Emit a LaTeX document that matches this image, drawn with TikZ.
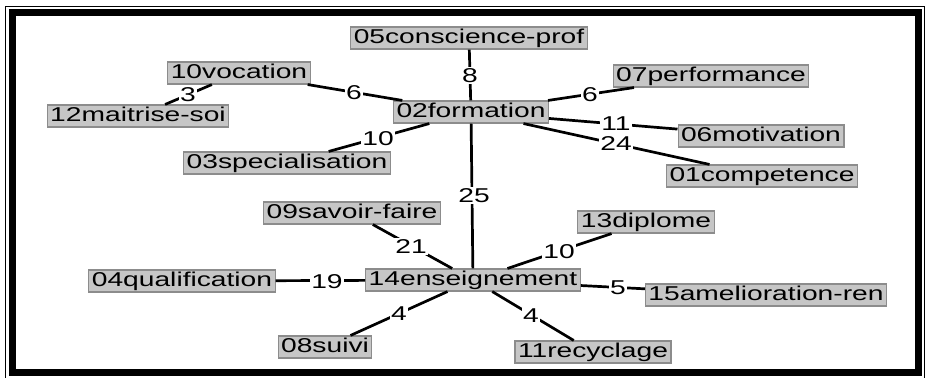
\documentclass[tikz,border=0pt]{standalone}
\usepackage{fontspec}
\setmainfont{Liberation Sans}[FakeStretch=1.41]
\definecolor{boxfill}{RGB}{198,198,198}
\definecolor{boxline}{RGB}{140,140,140}
\begin{document}
\begin{tikzpicture}[x=1bp,y=-1bp,
  every node/.style={font=\fontsize{20bp}{22bp}\selectfont},
  term/.style={draw=boxline, fill=boxfill, line width=1.1bp, inner xsep=3bp, inner ysep=0bp,
    minimum height=22bp, text height=14.5bp, text depth=4bp},
  lbl/.style={fill=white, inner sep=1.5bp, text height=14bp, text depth=0bp},
  edge/.style={line width=2.7bp}]
\useasboundingbox (0,0) rectangle (928,377);
\clip (0,0) rectangle (928,377);
% frame
\draw[line width=1.3bp] (5.5,6.5) rectangle (924.8,395);
\draw[line width=7bp] (12.5,12.5) rectangle (918.5,372.5);
% nodes
\node[term] (n05) at (469,38) {05conscience-prof};
\node[term] (n10) at (239,73) {10vocation};
\node[term] (n12) at (138,116) {12maitrise-soi};
\node[term] (n02) at (471,112) {02formation};
\node[term] (n07) at (711,76) {07performance};
\node[term] (n06) at (761,136) {06motivation};
\node[term] (n03) at (287,163) {03specialisation};
\node[term] (n01) at (762,176) {01competence};
\node[term] (n09) at (352,213) {09savoir-faire};
\node[term] (n13) at (646,222) {13diplome};
\node[term] (n14) at (473,280) {14enseignement};
\node[term] (n04) at (182,281) {04qualification};
\node[term] (n15) at (766,295) {15amelioration-ren};
\node[term] (n08) at (325,347) {08suivi};
\node[term] (n11) at (593,352) {11recyclage};
% edges
\draw[edge] (n05) -- (n02);
\draw[edge] (n10) -- (n02);
\draw[edge] (n10) -- (n12);
\draw[edge] (n02) -- (n07);
\draw[edge] (n02) -- (n06);
\draw[edge] (n02) -- (n01);
\draw[edge] (n02) -- (n03);
\draw[edge] (n02) -- (n14);
\draw[edge] (n14) -- (n09);
\draw[edge] (n14) -- (n13);
\draw[edge] (n14) -- (n04);
\draw[edge] (n14) -- (n15);
\draw[edge] (n14) -- (n08);
\draw[edge] (n14) -- (n11);
% edge labels
\node[lbl] (l1) at (470,75) {8};
\node[lbl] (l2) at (354,92) {6};
\node[lbl] (l3) at (188,94) {3};
\node[lbl] (l4) at (590,94) {6};
\node[lbl] (l5) at (616,123) {11};
\node[lbl] (l6) at (616,143) {24};
\node[lbl] (l7) at (378,138) {10};
\node[lbl] (l8) at (474,195) {25};
\node[lbl] (l9) at (411,246) {21};
\node[lbl] (l10) at (559,251) {10};
\node[lbl] (l11) at (327,281) {19};
\node[lbl] (l12) at (618,287) {5};
\node[lbl] (l13) at (399,313) {4};
\node[lbl] (l14) at (531,315) {4};
\end{tikzpicture}
\end{document}
